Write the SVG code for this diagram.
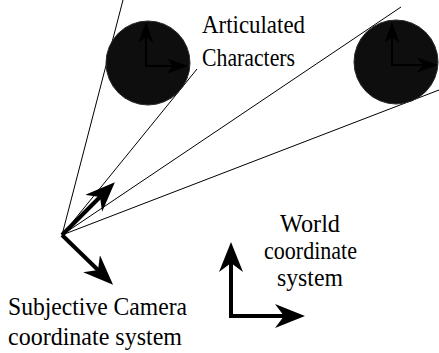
<svg xmlns="http://www.w3.org/2000/svg" width="439" height="353" viewBox="0 0 439 353">
<style>
.txt{font-family:'Liberation Serif','Times New Roman',serif;font-size:25px;fill:#000}
.thin{stroke:#000;stroke-width:1;fill:none}
.thick{stroke:#000;stroke-width:4;fill:none;stroke-linejoin:miter}
.inner{stroke:#000;stroke-width:2;fill:none}
.ball{fill:#0e0e0e;stroke:#2a2a2a;stroke-width:1}
</style>
<defs>
<marker id="big" markerUnits="userSpaceOnUse" markerWidth="32" markerHeight="26" refX="9" refY="12" orient="auto-start-reverse" viewBox="0 0 32 26">
<path d="M0,0 L30,12 L0,24 L9,12 z" fill="#000"/>
</marker>
<marker id="small" markerUnits="userSpaceOnUse" markerWidth="22" markerHeight="16" refX="6" refY="7.5" orient="auto" viewBox="0 0 22 16">
<path d="M0,0 L21,7.5 L0,15 L6,7.5 z" fill="#000"/>
</marker>
</defs>
<g id="connectors">
<line class="thin" x1="62" y1="235" x2="123" y2="0"/>
<line class="thin" x1="62" y1="235" x2="197" y2="69"/>
<line class="thin" x1="62" y1="235" x2="401" y2="7"/>
<line class="thin" x1="62" y1="235" x2="439" y2="90"/>
</g>
<g id="character1">
<circle class="ball" cx="148" cy="63" r="42"/>
<line class="inner" x1="146" y1="66" x2="146" y2="37" marker-end="url(#small)"/>
<line class="inner" x1="145" y1="66" x2="173" y2="66" marker-end="url(#small)"/>
</g>
<g id="character2">
<circle class="ball" cx="396" cy="62" r="42"/>
<line class="inner" x1="392" y1="65" x2="392" y2="37" marker-end="url(#small)"/>
<line class="inner" x1="391" y1="65" x2="423" y2="65" marker-end="url(#small)"/>
</g>
<g id="label-characters">
<text class="txt" x="202" y="33" textLength="103" lengthAdjust="spacingAndGlyphs">Articulated</text>
<text class="txt" x="202" y="66" textLength="93" lengthAdjust="spacingAndGlyphs">Characters</text>
</g>
<g id="camera">
<line class="thick" x1="62" y1="235" x2="100" y2="197" marker-end="url(#big)"/>
<line class="thick" x1="62" y1="235" x2="98" y2="270" marker-end="url(#big)"/>
<text class="txt" x="8" y="315" textLength="179" lengthAdjust="spacingAndGlyphs">Subjective Camera</text>
<text class="txt" x="8" y="345" textLength="174" lengthAdjust="spacingAndGlyphs">coordinate system</text>
</g>
<g id="world">
<path class="thick" d="M231,263 L231,316 L284,316" marker-start="url(#big)" marker-end="url(#big)"/>
<text class="txt" x="280" y="232" textLength="60" lengthAdjust="spacingAndGlyphs">World</text>
<text class="txt" x="264" y="259" textLength="93" lengthAdjust="spacingAndGlyphs">coordinate</text>
<text class="txt" x="277" y="286" textLength="66" lengthAdjust="spacingAndGlyphs">system</text>
</g>
</svg>
